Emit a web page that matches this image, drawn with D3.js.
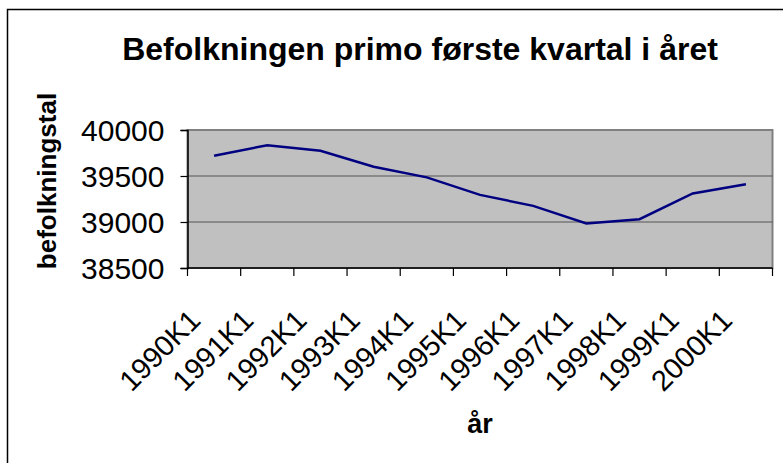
<!DOCTYPE html>
<html>
<head>
<meta charset="UTF-8">
<title>Befolkningen primo første kvartal i året</title>
<script src="https://cdn.jsdelivr.net/npm/d3@7/dist/d3.min.js"></script>
<style>
  body { margin: 0; background: #fff; }
  svg text { font-family: Arial, "Liberation Sans", sans-serif; fill: #000; }
</style>
</head>
<body>
<div id="chart"></div>
<script>
// data
const quarters = ["1990K1", "1991K1", "1992K1", "1993K1", "1994K1", "1995K1",
                  "1996K1", "1997K1", "1998K1", "1999K1", "2000K1"];
const population = [39720, 39835, 39775, 39600, 39485, 39295,
                    39175, 38985, 39030, 39310, 39410];
const yTicks = [38500, 39000, 39500, 40000];

const width = 783, height = 463;
const plot = {left: 187.5, right: 772.5, top: 130, bottom: 268};

const svg = d3.select("#chart").append("svg")
    .attr("width", width)
    .attr("height", height);

// outer chart frame
svg.append("rect")
    .attr("x", 7.5).attr("y", 9.5)
    .attr("width", 800).attr("height", 500)
    .attr("fill", "#fff")
    .attr("stroke", "#000")
    .attr("stroke-width", 1.5);

const x = d3.scaleBand().domain(quarters).range([plot.left, plot.right]);
const y = d3.scaleLinear().domain([38500, 40000]).range([plot.bottom, plot.top]);

// plot area
svg.append("rect")
    .attr("x", plot.left).attr("y", plot.top)
    .attr("width", plot.right - plot.left)
    .attr("height", plot.bottom - plot.top)
    .attr("fill", "#c0c0c0")
    .attr("stroke", "#808080")
    .attr("stroke-width", 2);

// gridlines
svg.append("g")
    .selectAll("line")
    .data(yTicks.filter(d => d > 38500 && d < 40000))
    .join("line")
    .attr("x1", plot.left).attr("x2", plot.right)
    .attr("y1", d => y(d)).attr("y2", d => y(d))
    .attr("stroke", "#555")
    .attr("stroke-width", 1.2);

// y axis
const yAxis = svg.append("g")
    .attr("transform", "translate(" + plot.left + ",0)")
    .call(d3.axisLeft(y).tickValues(yTicks).tickSize(7).tickPadding(16).tickFormat(d3.format("d")));
yAxis.select(".domain").attr("stroke", "#000").attr("stroke-width", 1.5);
yAxis.selectAll(".tick line").attr("stroke", "#000").attr("stroke-width", 1.2);
yAxis.selectAll("text")
    .attr("font-size", 30)
    .attr("dy", "0.36em");

// x axis with ticks on band boundaries
const bounds = quarters.map(q => x(q)).concat([plot.right]);
svg.append("line")
    .attr("x1", plot.left).attr("x2", plot.right)
    .attr("y1", plot.bottom).attr("y2", plot.bottom)
    .attr("stroke", "#000").attr("stroke-width", 1.5);
svg.append("g")
    .selectAll("line")
    .data(bounds)
    .join("line")
    .attr("x1", d => d).attr("x2", d => d)
    .attr("y1", plot.bottom).attr("y2", plot.bottom + 8)
    .attr("stroke", "#000").attr("stroke-width", 1.2);

svg.append("g")
    .selectAll("text")
    .data(quarters)
    .join("text")
    .attr("transform", d => "translate(" + (x(d) + x.bandwidth() / 2 - 12) + ",322) rotate(-45)")
    .attr("text-anchor", "end")
    .attr("font-size", 29)
    .text(d => d);

// the line
const line = d3.line()
    .x((d, i) => x(quarters[i]) + x.bandwidth() / 2)
    .y(d => y(d));
svg.append("path")
    .datum(population)
    .attr("d", line)
    .attr("fill", "none")
    .attr("stroke", "#000080")
    .attr("stroke-width", 2.5);

// title and axis titles
svg.append("text")
    .attr("x", 420).attr("y", 60)
    .attr("text-anchor", "middle")
    .attr("font-size", 32)
    .attr("font-weight", "bold")
    .text("Befolkningen primo første kvartal i året");

svg.append("text")
    .attr("transform", "translate(56,181) rotate(-90)")
    .attr("text-anchor", "middle")
    .attr("font-size", 26)
    .attr("font-weight", "bold")
    .text("befolkningstal");

svg.append("text")
    .attr("x", 480).attr("y", 433)
    .attr("text-anchor", "middle")
    .attr("font-size", 27)
    .attr("font-weight", "bold")
    .text("år");
</script>
</body>
</html>
